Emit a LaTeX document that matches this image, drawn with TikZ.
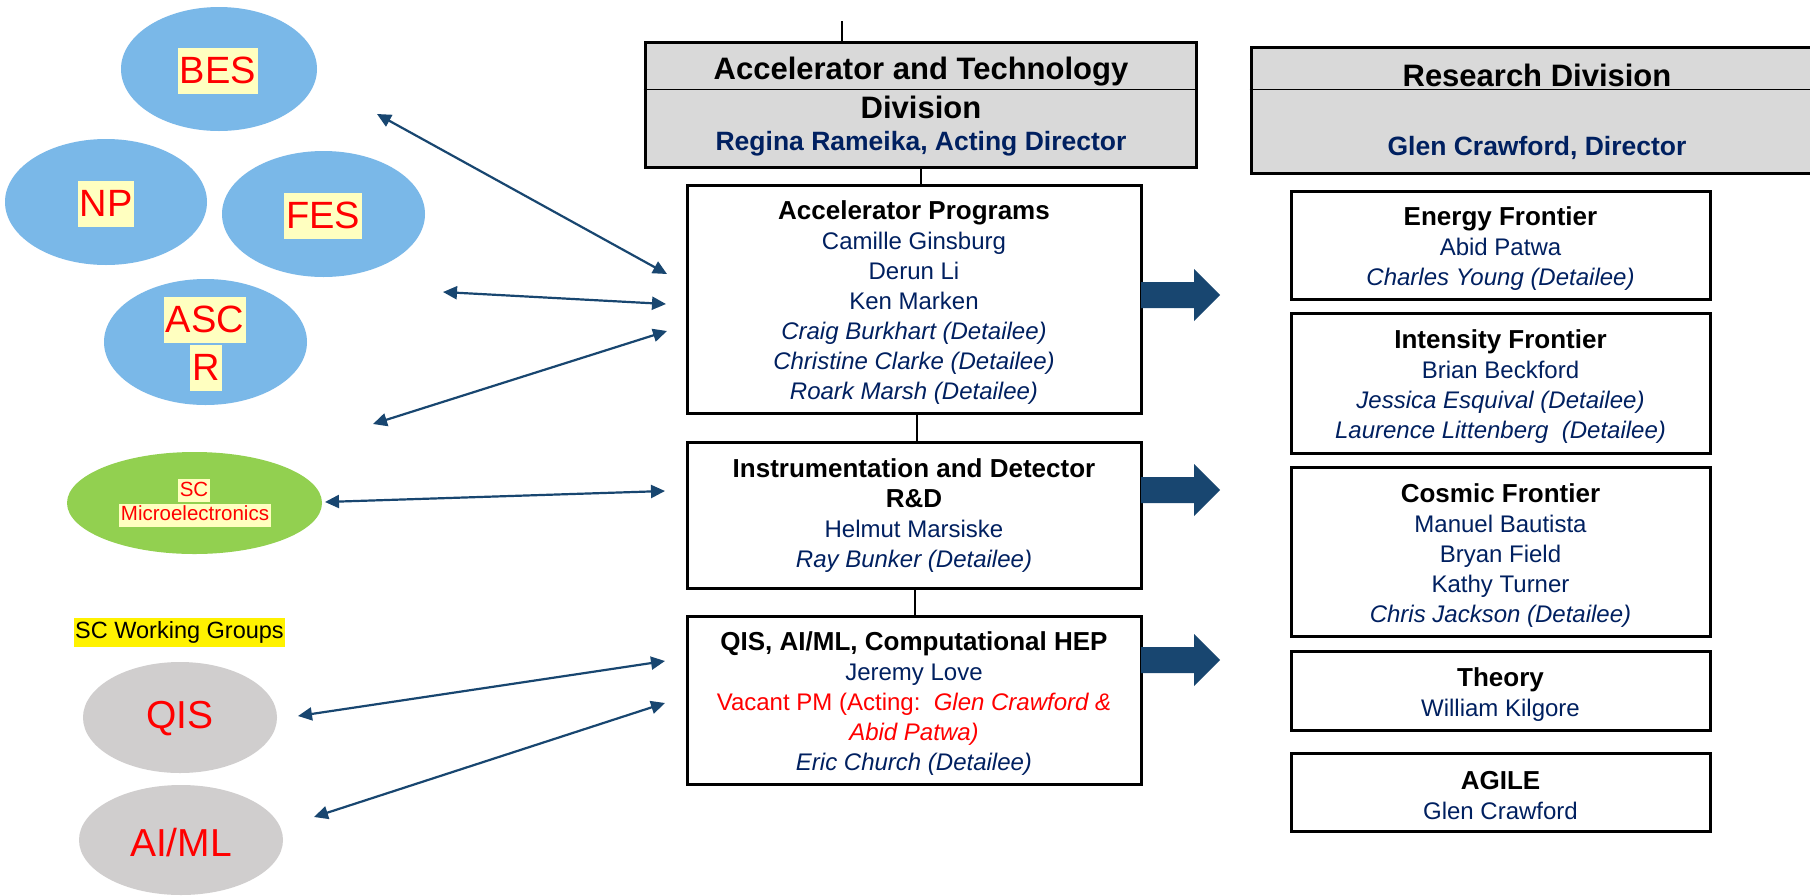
\documentclass[tikz,border=0pt]{standalone}
\usepackage{fontspec}
\setmainfont{Liberation Sans}
\usetikzlibrary{arrows.meta,shapes.geometric,calc}
\definecolor{navy}{RGB}{0,32,96}
\definecolor{arrowblue}{RGB}{24,70,112}
\definecolor{ellblue}{RGB}{122,184,232}
\definecolor{ellgreen}{RGB}{146,208,80}
\definecolor{ellgrey}{RGB}{208,206,206}
\definecolor{hlyellow}{RGB}{255,255,192}
\definecolor{hdrgrey}{RGB}{217,217,217}
\newcommand\fsz[2]{\fontsize{#1}{#2}\selectfont}
\newcommand\boxtitle{\color{black}\bfseries\fontsize{26}{30}\selectfont}
\newcommand\fatarrow[2]{\fill[fat] (#1,#2) ++(0,-13) -- ++(53,0) -- ++(0,-13) -- ++(26,26) -- ++(-26,26) -- ++(0,-13) -- ++(-53,0) -- cycle;}
\tikzset{
  orgbox/.style={draw=black, line width=3pt, fill=white, inner sep=0pt},
  boxtext/.style={inner sep=0pt, align=center, text=navy, font=\fsz{24}{30}, yshift=-4pt},
  hdrbox/.style={draw=black, line width=3pt, fill=hdrgrey, inner sep=0pt},
  hdrline/.style={draw=black, line width=1.4pt},
  hdrtitle/.style={font=\bfseries\fsz{31}{36}, text=black, inner sep=0pt},
  hdrname/.style={font=\bfseries\fsz{26.5}{32}, text=navy, inner sep=0pt},
  ell/.style={ellipse, inner sep=0pt, draw=none},
  elabel/.style={fill=hlyellow, text=red, font=\fsz{38}{46}, inner xsep=2pt, inner ysep=3pt,
    text height=32pt, text depth=8pt},
  smlabel/.style={fill=hlyellow, text=red, font=\fsz{20.5}{24}, inner xsep=1.5pt, inner ysep=1.5pt,
    text height=15.5pt, text depth=4.5pt},
  glabel/.style={text=red, font=\fsz{39}{46}, inner sep=0pt},
  link/.style={draw=arrowblue, line width=2.2pt,
    {Triangle[length=14pt,width=13pt]}-{Triangle[length=14pt,width=13pt]}},
  fat/.style={fill=arrowblue, draw=none},
  tree/.style={draw=black, line width=2pt},
}
\begin{document}
\begin{tikzpicture}[x=1pt,y=-1pt]
\clip (0,0) rectangle (1810,895);
\fill[white] (0,0) rectangle (1810,895);

% ---- left ellipses ----
\node[ell, fill=ellblue, minimum width=196pt, minimum height=124pt] (bes) at (219,69) {};
\node[ell, fill=ellblue, minimum width=202pt, minimum height=126pt] (np) at (106,202) {};
\node[ell, fill=ellblue, minimum width=203pt, minimum height=126pt] (fes) at (323.5,214) {};
\node[ell, fill=ellblue, minimum width=203pt, minimum height=126pt] (ascr) at (205.5,342) {};
\node[ell, fill=ellgreen, minimum width=255pt, minimum height=102pt] (scm) at (194.5,503) {};
\node[ell, fill=ellgrey, minimum width=194pt, minimum height=111pt] (qis) at (180,717.5) {};
\node[ell, fill=ellgrey, minimum width=204pt, minimum height=110pt] (aiml) at (181,840) {};

\node[elabel] (besl) at (218,71) {BES};
\node[elabel] (npl) at (106,204) {NP};
\node[elabel] (fesl) at (323,216) {FES};
\node[elabel] (ascl) at (205,320) {ASC};
\node[elabel] (rl) at (206,368) {R};
\node[smlabel] (scl) at (194,490.5) {SC};
\node[smlabel] (microl) at (195,515) {Microelectronics};
\node[fill=yellow, text=black, font=\fsz{23.5}{28}, inner xsep=1.5pt, inner ysep=3pt,
  text height=17.5pt, text depth=5.5pt] (wg) at (179.5,632.5) {SC Working Groups};
\node[glabel] (qisl) at (180,719) {QIS};
\node[glabel] (aimll) at (181,843) {AI/ML};

% ---- headers ----
\node[hdrbox, minimum width=551pt, minimum height=125pt] (atd) at (920.5,104.5) {};
\draw[hdrline] ($(atd.north west)+(0,49)$) -- ($(atd.north east)+(0,49)$);
\node[hdrtitle] (atdt1) at (921,72) {Accelerator and Technology};
\node[hdrtitle] (atdt2) at (921,107) {Division};
\node[hdrname] (atdn) at (921,144) {Regina Rameika, Acting Director};

\node[hdrbox, minimum width=572pt, minimum height=126pt] (rd) at (1537,110) {};
\draw[hdrline] ($(rd.north west)+(0,44)$) -- ($(rd.north east)+(0,44)$);
\node[hdrtitle] (rdt) at (1537,75) {Research Division};
\node[hdrname] (rdn) at (1537,148) {Glen Crawford, Director};

% ---- middle boxes ----
\node[orgbox, minimum width=454pt, minimum height=228pt] (ap) at (914,299) {};
\node[boxtext] (apt) at (ap.center) {%
  {\boxtitle Accelerator Programs}\\ Camille Ginsburg\\ Derun Li\\ Ken Marken\\
  \textit{Craig Burkhart (Detailee)}\\ \textit{Christine Clarke (Detailee)}\\
  \textit{Roark Marsh (Detailee)}};
\node[orgbox, minimum width=454pt, minimum height=146pt] (id) at (914,515) {};
\node[boxtext, yshift=3pt] (idt) at (id.center) {%
  {\boxtitle Instrumentation and Detector}\\ {\boxtitle R\&D}\\ Helmut Marsiske\\
  \textit{Ray Bunker (Detailee)}};
\node[orgbox, minimum width=454pt, minimum height=168pt] (qisbox) at (914,700) {};
\node[boxtext] (qist) at (qisbox.center) {%
  {\boxtitle QIS, AI/ML, Computational HEP}\\ Jeremy Love\\
  {\color{red}Vacant PM (Acting:\ \ \textit{Glen Crawford \&}}\\
  {\color{red}\textit{Abid Patwa)}}\\ \textit{Eric Church (Detailee)}};

% ---- right boxes ----
\node[orgbox, minimum width=419pt, minimum height=108pt] (ef) at (1500.5,245) {};
\node[boxtext] (eft) at (ef.center) {%
  {\boxtitle Energy Frontier}\\ Abid Patwa\\ \textit{Charles Young (Detailee)}};
\node[orgbox, minimum width=419pt, minimum height=140pt] (if) at (1500.5,383) {};
\node[boxtext] (ift) at (if.center) {%
  {\boxtitle Intensity Frontier}\\ Brian Beckford\\ \textit{Jessica Esquival (Detailee)}\\
  \textit{Laurence Littenberg\ \ (Detailee)}};
\node[orgbox, minimum width=419pt, minimum height=169pt] (cf) at (1500.5,551.5) {};
\node[boxtext] (cft) at (cf.center) {%
  {\boxtitle Cosmic Frontier}\\ Manuel Bautista\\ Bryan Field\\ Kathy Turner\\
  \textit{Chris Jackson (Detailee)}};
\node[orgbox, minimum width=419pt, minimum height=79pt] (th) at (1500.5,690.5) {};
\node[boxtext] (tht) at (th.center) {{\boxtitle Theory}\\ William Kilgore};
\node[orgbox, minimum width=419pt, minimum height=78pt] (ag) at (1500.5,792) {};
\node[boxtext] (agt) at (ag.center) {{\boxtitle AGILE}\\ Glen Crawford};

% ---- tree connectors ----
\coordinate (top) at (842,21);
\draw[tree] (top) -- (top |- atd.north);
\draw[tree] (atd.south) -- (atd.south |- ap.north);
\draw[tree] ($(ap.south)+(3,0)$) -- ($(id.north)+(3,0)$);
\draw[tree] ($(id.south)+(1,0)$) -- ($(qisbox.north)+(1,0)$);

% ---- fat arrows ----
\fatarrow{1141}{295}
\fatarrow{1141}{490}
\fatarrow{1141}{660}

% ---- thin double arrows ----
\coordinate (l1a) at (377,114);  \coordinate (l1b) at (667,274);
\coordinate (l2a) at (443,292);  \coordinate (l2b) at (666,304);
\coordinate (l3a) at (373,424);  \coordinate (l3b) at (667,331);
\coordinate (l4a) at (325,502);  \coordinate (l4b) at (665,491);
\coordinate (l5a) at (298,716);  \coordinate (l5b) at (665,661);
\coordinate (l6a) at (314,817);  \coordinate (l6b) at (665,703);
\draw[link] (l1a) -- (l1b);
\draw[link] (l2a) -- (l2b);
\draw[link] (l3a) -- (l3b);
\draw[link] (l4a) -- (l4b);
\draw[link] (l5a) -- (l5b);
\draw[link] (l6a) -- (l6b);
\end{tikzpicture}
\end{document}
